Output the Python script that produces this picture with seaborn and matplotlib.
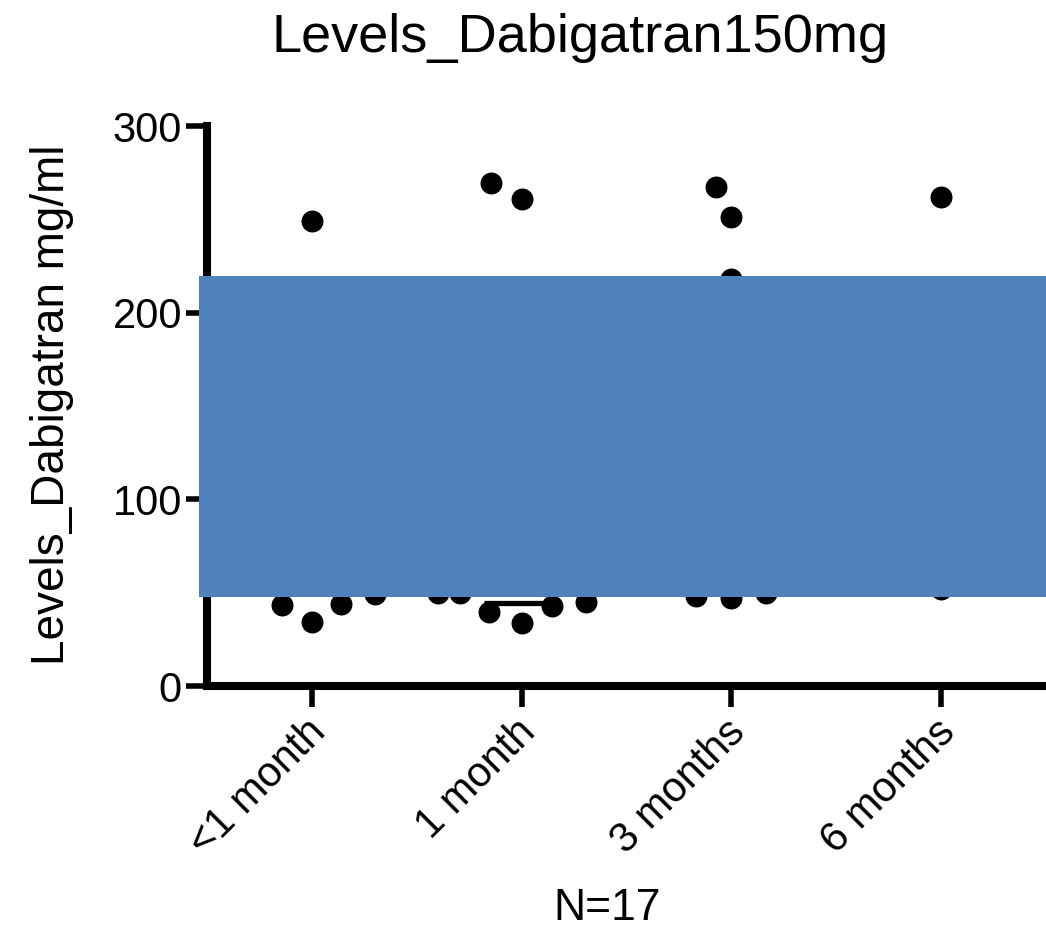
import numpy as np
import pandas as pd
import matplotlib
matplotlib.use("Agg")
import matplotlib.pyplot as plt
import matplotlib.transforms as mtransforms
from matplotlib.patches import Rectangle
import seaborn as sns

# datos (puntos visibles)
grupos = ["<1 month", "1 month", "3 months", "6 months"]
niveles_menos1 = [249.0, 44.0, 34.3, 43.4, 49.3]
niveles_1mes = [269.4, 260.8, 50.0, 50.0, 42.8, 33.7, 39.6, 45.0]
niveles_3meses = [267.3, 251.2, 218.0, 50.0, 47.0, 48.0]
niveles_6meses = [262.0, 52.0]
medianas = [np.nan, 44.4, np.nan, np.nan]  # solo se ve la del grupo 1 month
caja_inferior = 47.7
caja_superior = 219.6

df = pd.DataFrame({
    "grupo": [grupos[0]] * len(niveles_menos1) + [grupos[1]] * len(niveles_1mes)
             + [grupos[2]] * len(niveles_3meses) + [grupos[3]] * len(niveles_6meses),
    "nivel": niveles_menos1 + niveles_1mes + niveles_3meses + niveles_6meses,
})

sns.set_style("ticks")
plt.rcParams["font.family"] = ["Liberation Sans", "DejaVu Sans"]
plt.rcParams.update({"text.color": "black", "axes.labelcolor": "black",
                     "xtick.color": "black", "ytick.color": "black",
                     "axes.edgecolor": "black"})

fig = plt.figure(figsize=(10.46, 9.31), dpi=100)
ax = fig.add_axes([207 / 1046, 1 - 686 / 931, 839 / 1046, 560 / 931])

# el swarm se calcula con puntos mas grandes para separarlos como en Prism
sns.swarmplot(data=df, x="grupo", y="nivel", order=grupos, color="black",
              size=24, ax=ax, zorder=3)

ax.hlines(medianas, np.arange(4) - 0.18, np.arange(4) + 0.18, colors="black",
          linewidth=3.8, zorder=4)

ax.set_xlim(-0.5, 3.5)
ax.set_ylim(0, 300)
ax.set_yticks([0, 100, 200, 300])
sns.despine(ax=ax)
for s in ["left", "bottom"]:
    ax.spines[s].set_linewidth(5.8)
ax.tick_params(axis="both", width=4, length=15, labelsize=30)
ax.tick_params(axis="y", pad=3)

plt.setp(ax.get_xticklabels(), rotation=45, ha="right", rotation_mode="anchor")
offset = mtransforms.ScaledTranslation(-0.06, 0, fig.dpi_scale_trans)
for lab in ax.get_xticklabels():
    lab.set_transform(lab.get_transform() + offset)

ax.set_xlabel("N=17", fontsize=32)
ax.xaxis.set_label_coords(0.477, -0.36)
ax.set_ylabel("Levels_Dabigatran mg/ml", fontsize=33)
ax.yaxis.set_label_coords(-0.158, 0.502)

fig.text(580 / 1046, 1 - 52 / 931, "Levels_Dabigatran150mg", fontsize=39,
         ha="center", va="baseline")

# caja azul que tapa parte del grafico
caja = Rectangle((-0.0095, caja_inferior), 1.1, caja_superior - caja_inferior,
                 transform=ax.get_yaxis_transform(), facecolor="#4F81BD",
                 edgecolor="none", clip_on=False, zorder=10)
ax.add_patch(caja)

# fijar las posiciones del swarm y luego achicar los marcadores
fig.canvas.draw()
for col in ax.collections:
    if "draw" in col.__dict__:
        del col.draw
        col.set_sizes([15.8 ** 2])

fig.savefig("out.png", dpi=100)
